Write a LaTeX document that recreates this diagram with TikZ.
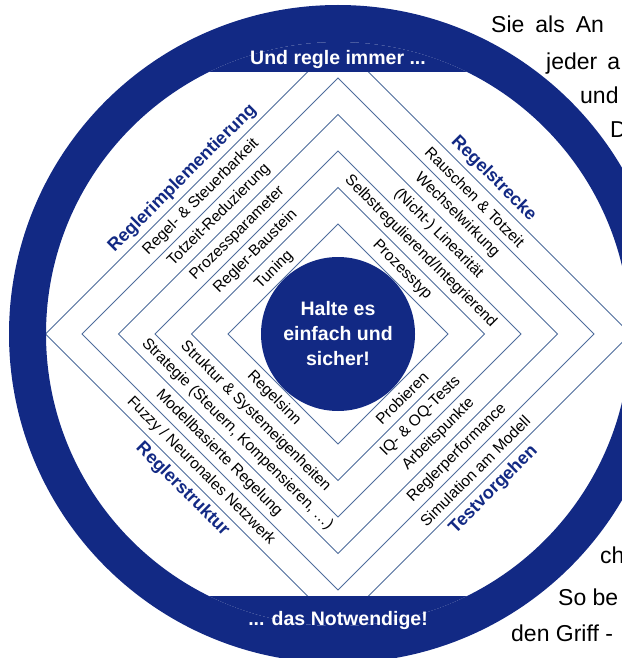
\documentclass[tikz,border=0pt]{standalone}
\usepackage{fontspec}
\setmainfont{Liberation Sans}
\definecolor{regelblau}{RGB}{18,41,132}
\definecolor{rautenblau}{RGB}{78,108,156}

\begin{document}
\begin{tikzpicture}[x=1pt,y=-1pt,
        eintrag/.style={font=\fontsize{15.5}{18}\selectfont},
        kategorie/.style={text=regelblau,font=\fontsize{18}{20}\selectfont\bfseries},
        bandtext/.style={text=white,anchor=base,font=\fontsize{19.5}{22}\selectfont\bfseries},
        seitentext/.style={anchor=base west,inner sep=0pt,font=\fontsize{23}{26}\selectfont}]
        \useasboundingbox (0,0) rectangle (621,658);
        \coordinate (M) at (338,334);
        %% Rauten
        \foreach \d in {110,146.5,183,219.5,256,292.5}
            \draw[rautenblau,line width=1pt] (M) ++(-\d,0) -- ++(\d,-\d) -- ++(\d,\d) -- ++(-\d,\d) -- cycle;
        %% Ring mit Baendern oben und unten
        \fill[regelblau,even odd rule] (M) circle (329) (M) circle (292);
        \begin{scope}
            \clip (0,0) rectangle (621,72) (0,596) rectangle (621,658);
            \fill[regelblau] (M) circle (292);
        \end{scope}
        \node[bandtext] (oben) at (338,65) {Und regle immer ...};
        \node[bandtext] (unten) at (338,625) {... das Notwendige!};
        %% Mitte
        \fill[regelblau] (M) circle (77);
        \node[text=white,align=center,font=\fontsize{19.5}{25}\selectfont\bfseries] (mitte) at (M) {Halte es\\einfach und\\sicher!};
        %% oben links
        \foreach \s/\t in {128/Tuning,165/Regler-Baustein,201/Prozessparameter,238/Totzeit-Reduzierung,274/Regel- \& Steuerbarkeit}
            \node[eintrag,rotate=45] (impl\s) at ([shift={(-\s/2,-\s/2)}]M) {\t};
        \node[kategorie,rotate=45] (impl) at ([shift={(-155.5,-155.5)}]M) {Reglerimplementierung};
        %% oben rechts
        \foreach \s/\t in {128/Prozesstyp,165/{Selbstregulierend/Integrierend},201/(Nicht-) Linearität,238/Wechselwirkung,274/Rauschen \& Totzeit}
            \node[eintrag,rotate=-45] (strecke\s) at ([shift={(\s/2,-\s/2)}]M) {\t};
        \node[kategorie,rotate=-45] (strecke) at ([shift={(155.5,-155.5)}]M) {Regelstrecke};
        %% unten links
        \foreach \s/\t in {128/Regelsinn,165/Struktur \& Systemeigenheiten,201/{Strategie (Steuern, Kompensieren, …)},238/Modellbasierte Regelung,274/{Fuzzy / Neuronales Netzwerk}}
            \node[eintrag,rotate=-45] (struktur\s) at ([shift={(-\s/2,\s/2)}]M) {\t};
        \node[kategorie,rotate=-45] (struktur) at ([shift={(-155.5,155.5)}]M) {Reglerstruktur};
        %% unten rechts
        \foreach \s/\t in {128/Probieren,165/IQ- \& OQ-Tests,201/Arbeitspunkte,238/Reglerperformance,274/Simulation am Modell}
            \node[eintrag,rotate=45] (test\s) at ([shift={(\s/2,\s/2)}]M) {\t};
        \node[kategorie,rotate=45] (test) at ([shift={(155.5,155.5)}]M) {Testvorgehen};
        %% Fliesstext am Rand
        \node[seitentext] (z1) at (491,33) {Sie\hspace{11pt}als\hspace{11pt}An};
        \node[seitentext] (z2) at (546,70) {jeder\hspace{10pt}a};
        \node[seitentext] (z3) at (580,103) {und};
        \node[seitentext] (z4) at (610,138) {D};
        \node[seitentext] (z5) at (600,563) {ch};
        \node[seitentext] (z6) at (558,605) {So be};
        \node[seitentext] (z7) at (511,641) {den Griff -};
\end{tikzpicture}
\end{document}
